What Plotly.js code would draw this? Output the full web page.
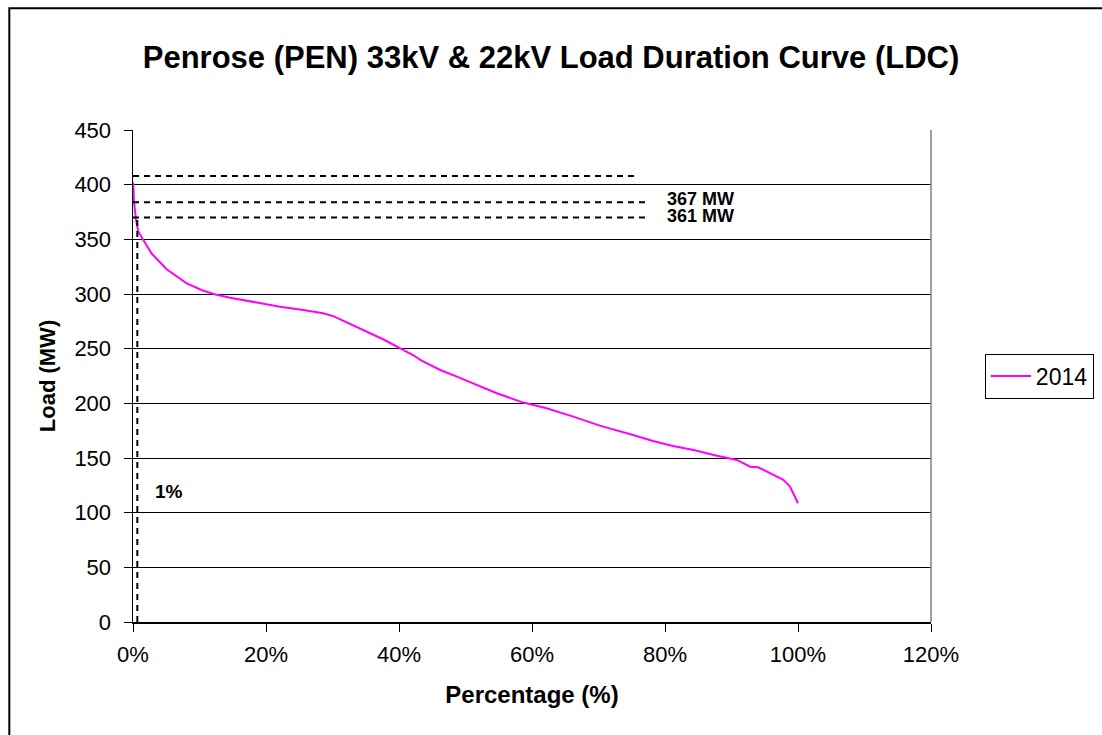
<!DOCTYPE html>
<html>
<head>
<meta charset="utf-8">
<script src="https://cdn.plot.ly/plotly-3.0.1.min.js"></script>
<style>
  html, body { margin: 0; padding: 0; background: #fff; }
  #chart { width: 1102px; height: 735px; }
</style>
</head>
<body>
<div id="chart"></div>
<script>
// Percentage of time (%) vs load (MW)
const pct = [0, 0.05, 0.15, 0.45, 0.8, 1.55, 2.8, 5.07, 6.57, 8.07, 10.3, 12.1, 14.6, 19.1, 22.1, 25.6, 28.6, 30.2, 31.6, 33.6, 35.6, 37.6,
  40.2, 42.1, 43.4, 46.2, 48.7, 51.7, 54.7, 58.7, 62.2, 66.2, 70.2, 75.2, 78.2, 81.2, 84.3, 87.8, 90.8, 92.8, 94.0, 97.8, 98.8, 100];
const loadMW = [402, 400, 384, 368, 357, 349, 337, 322.6, 315.8, 309.8, 303.7, 300, 296.6, 291.4, 288.4, 285.4, 282.4, 279.5, 275.5, 270, 264, 258.6,
  250.3, 244.2, 239, 230.5, 224.4, 216.8, 209.2, 200.7, 195.5, 187.8, 179.6, 171, 165.5, 161, 157.3, 152.1, 148.2, 142, 141.5, 130, 123.8, 108.6];
const seriesName = "2014";

// Reference dashed levels (MW) and where each dashed line ends (%)
const refLevels = [408, 384, 370];
const refEnds = [76, 77.7, 77.7];
const refLabels = ["367 MW", "361 MW"];
const refLabelY = [386.5, 371.5];
const labelX = 80.2;
const onePctX = 0.65;
const onePctLabel = "1%";
const onePctLabelY = 119;

const xTicks = [0, 20, 40, 60, 80, 100, 120];
const xTickText = ["0%", "20%", "40%", "60%", "80%", "100%", "120%"];
const yTicks = [0, 50, 100, 150, 200, 250, 300, 350, 400, 450];

const dashStyle = "6px,5px";
const FONT = "Liberation Sans, Arial, sans-serif";

const shapes = [];
refLevels.forEach((lv, i) => {
  shapes.push({type: "line", xref: "x", yref: "y", x0: 0, x1: refEnds[i], y0: lv, y1: lv,
    line: {color: "#000", width: 2, dash: dashStyle}});
});
shapes.push({type: "line", xref: "x", yref: "y", x0: onePctX, x1: onePctX, y0: 0, y1: refLevels[2],
  line: {color: "#000", width: 2, dash: dashStyle}});
// right frame of plot area (grey)
shapes.push({type: "line", xref: "paper", yref: "paper", x0: 1, x1: 1, y0: 0, y1: 1, line: {color: "#808080", width: 1.5}});
// outer chart border
shapes.push({type: "rect", xref: "paper", yref: "paper", x0: -0.155, x1: 1.4, y0: -0.4, y1: 1.2475,
  line: {color: "#000", width: 2}, fillcolor: "rgba(0,0,0,0)", layer: "below"});

const annotations = [];
refLabels.forEach((t, i) => {
  annotations.push({x: labelX, y: refLabelY[i], xref: "x", yref: "y", text: "<b>" + t + "</b>",
    showarrow: false, xanchor: "left", yanchor: "middle", borderpad: 0,
    font: {family: FONT, size: 18, color: "#000"}});
});
annotations.push({x: 3, y: onePctLabelY, xref: "x", yref: "y", text: "<b>" + onePctLabel + "</b>",
  showarrow: false, xanchor: "left", yanchor: "middle",
  font: {family: FONT, size: 19, color: "#000"}});

const trace = {
  x: pct, y: loadMW, type: "scatter", mode: "lines", name: seriesName,
  line: {color: "#FF00FF", width: 2}
};

const layout = {
  width: 1102, height: 735,
  margin: {l: 133, r: 171, t: 130, b: 113, autoexpand: false},
  paper_bgcolor: "#fff", plot_bgcolor: "#fff",
  font: {family: FONT, color: "#000", size: 22},
  title: {text: "<b>Penrose (PEN) 33kV & 22kV Load Duration Curve (LDC)</b>",
    font: {size: 31, family: FONT}, x: 0.5, xanchor: "center", xref: "container", y: 0.922, yanchor: "middle"},
  xaxis: {
    range: [0, 120], tickvals: xTicks, ticktext: xTickText,
    showgrid: false, zeroline: false, showline: true, linecolor: "#000", linewidth: 1.5,
    ticks: "outside", ticklen: 8, tickcolor: "#000", tickwidth: 1,
    ticklabelstandoff: 4,
    tickfont: {size: 22},
    automargin: false,
    title: {text: "<b>Percentage (%)</b>", font: {size: 24}, standoff: 20}
  },
  yaxis: {
    range: [0, 450], tickvals: yTicks,
    showgrid: true, gridcolor: "#000", gridwidth: 1,
    zeroline: false, showline: true, linecolor: "#000", linewidth: 1.5,
    ticks: "outside", ticklen: 8, tickcolor: "#000", tickwidth: 1,
    ticklabelstandoff: 8,
    tickfont: {size: 22},
    automargin: false,
    title: {text: "<b>Load (MW)</b>", font: {size: 22}, standoff: 12}
  },
  showlegend: true,
  legend: {x: 1.0675, xanchor: "left", y: 0.5, yanchor: "middle",
    bordercolor: "#000", borderwidth: 1, bgcolor: "#fff",
    font: {size: 23}, itemwidth: 40},
  shapes: shapes,
  annotations: annotations
};

Plotly.newPlot("chart", [trace], layout, {displayModeBar: false, staticPlot: true});
</script>
</body>
</html>
